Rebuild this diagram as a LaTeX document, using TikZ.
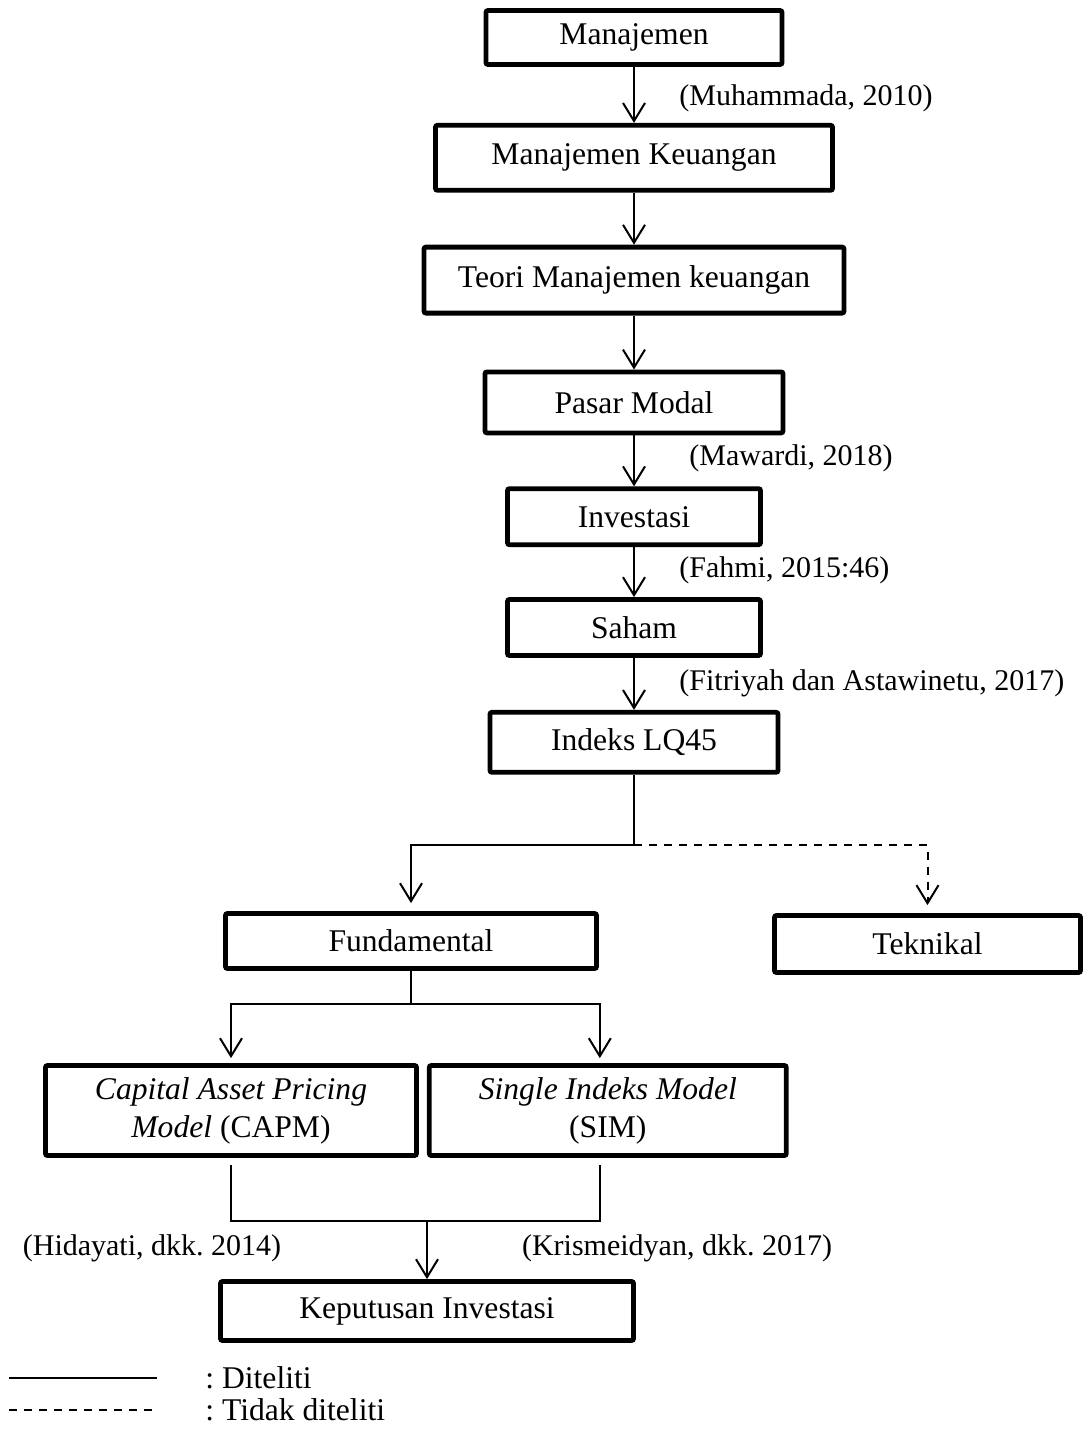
\documentclass[tikz,border=0pt]{standalone}
\usepackage{fontspec}
\setmainfont{Liberation Serif}
\usetikzlibrary{positioning,arrows.meta}
\frenchspacing

\begin{document}
\begin{tikzpicture}[x=1pt, y=1pt,
boxnode/.style={rectangle, draw=black, line width=2.4pt, rounded corners=1pt, inner sep=2pt, align=center, font=\fontsize{15.8}{19}\selectfont},
citenode/.style={inner sep=0pt, font=\fontsize{15}{18}\selectfont},
legendnode/.style={inner sep=0pt, font=\fontsize{15.8}{19}\selectfont},
arrowline/.style={line width=1pt, -{Straight Barb[length=9pt,width=11pt]}},
plainline/.style={line width=1pt},
dashline/.style={line width=1pt, dash pattern=on 4pt off 3.5pt},
]
\useasboundingbox (0,0) rectangle (542,-715.5);

%Nodes
\node[boxnode, minimum width=148pt, minimum height=27pt]     (manajemen)   at (317,-18.75)             {Manajemen};
\node[boxnode, minimum width=198.5pt, minimum height=32.5pt] (keuangan)    [below=28pt of manajemen]   {Manajemen Keuangan};
\node[boxnode, minimum width=210pt, minimum height=33pt]     (teori)       [below=26pt of keuangan]    {Teori Manajemen keuangan};
\node[boxnode, minimum width=149pt, minimum height=30.5pt]   (pasarmodal)  [below=27pt of teori]       {Pasar Modal};
\node[boxnode, minimum width=126.5pt, minimum height=28pt]   (investasi)   [below=25.5pt of pasarmodal] {Investasi};
\node[boxnode, minimum width=126.5pt, minimum height=28pt]   (saham)       [below=25pt of investasi]   {Saham};
\node[boxnode, minimum width=144pt, minimum height=30pt]     (indeks)      [below=26pt of saham]       {Indeks LQ45};
\node[boxnode, minimum width=185.5pt, minimum height=27.5pt] (fundamental) at (205.5,-470.5)           {Fundamental};
\node[boxnode, minimum width=153pt, minimum height=28.5pt]   (teknikal)    at (463.75,-472)            {Teknikal};
\node[boxnode, minimum width=185.5pt, minimum height=45pt]   (capm)        at (115.5,-555.25)          {\textit{Capital Asset Pricing}\\\textit{Model} (CAPM)};
\node[boxnode, minimum width=178.5pt, minimum height=45pt]   (sim)         [right=4pt of capm]         {\textit{Single Indeks Model}\\(SIM)};
\node[boxnode, minimum width=206.5pt, minimum height=29.5pt] (keputusan)   at (213.5,-655.5)           {Keputusan Investasi};

%Citations
\node[citenode, anchor=west] (citemuhammada) at (339.5,-49)   {(Muhammada, 2010)};
\node[citenode, anchor=west] (citemawardi)   at (344.5,-229)  {(Mawardi, 2018)};
\node[citenode, anchor=west] (citefahmi)     at (339.5,-285)  {(Fahmi, 2015:46)};
\node[citenode, anchor=west] (citefitriyah)  at (339.5,-341.5) {(Fitriyah dan Astawinetu, 2017)};
\node[citenode]              (citehidayati)  at (76,-624)     {(Hidayati, dkk. 2014)};
\node[citenode]              (citekrism)     at (338.5,-624)  {(Krismeidyan, dkk. 2017)};

%Lines
\draw[arrowline] (manajemen) -- (keuangan);
\draw[arrowline] (keuangan) -- (teori);
\draw[arrowline] (teori) -- (pasarmodal);
\draw[arrowline] (pasarmodal) -- (investasi);
\draw[arrowline] (investasi) -- (saham);
\draw[arrowline] (saham) -- (indeks);

\coordinate (split) at (indeks.south |- 0,-422.5);
\draw[plainline] (indeks.south) -- (split);
\draw[arrowline, shorten >=4pt] (split) -| (fundamental.north);
\draw[arrowline, dashline, shorten >=4pt] (split) -| (teknikal.north);

\coordinate (fsplit) at (fundamental.south |- 0,-502);
\draw[plainline] (fundamental.south) -- (fsplit);
\draw[arrowline, shorten >=2.5pt] (fsplit) -| (capm.north);
\draw[arrowline, shorten >=2.5pt] (fsplit) -| ([xshift=-4pt]sim.north);

\coordinate (merge) at (keputusan.north |- 0,-610.5);
\draw[plainline] ([yshift=-3.5pt]capm.south) |- (merge);
\draw[plainline] ([xshift=-4pt,yshift=-3.5pt]sim.south) |- (merge);
\draw[arrowline] (merge) -- (keputusan.north);

%Legend
\coordinate (solidstart) at (4.5,-689);
\coordinate (solidend)   at (78.5,-689);
\coordinate (dashstart)  at (4.5,-705);
\coordinate (dashend)    at (76,-705);
\draw[plainline, line width=1.4pt] (solidstart) -- (solidend);
\draw[dashline] (dashstart) -- (dashend);
\node[legendnode, anchor=west] (legsolid) at (102.5,-689) {: Diteliti};
\node[legendnode, anchor=west] (legdash)  at (102.5,-705) {: Tidak diteliti};
\end{tikzpicture}
\end{document}
